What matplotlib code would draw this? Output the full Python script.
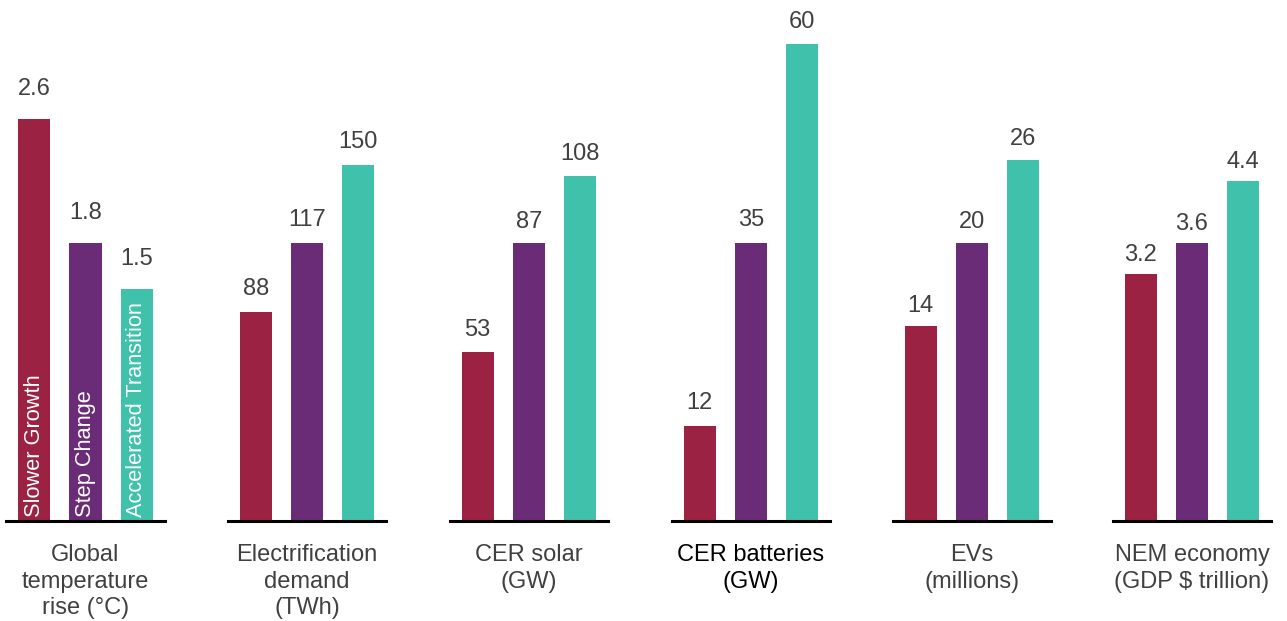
import matplotlib
matplotlib.use("Agg")
import matplotlib.pyplot as plt

plt.rcParams['font.family'] = ['Liberation Sans', 'DejaVu Sans']

scenarios = ["Slower Growth", "Step Change", "Accelerated Transition"]
colors = ["#9B2242", "#6A2C77", "#40C1AC"]

categories = [
    "Global\ntemperature\nrise (°C)",
    "Electrification\ndemand\n(TWh)",
    "CER solar\n(GW)",
    "CER batteries\n(GW)",
    "EVs\n(millions)",
    "NEM economy\n(GDP $ trillion)",
]
values = [
    [2.6, 1.8, 1.5],
    [88, 117, 150],
    [53, 87, 108],
    [12, 35, 60],
    [14, 20, 26],
    [3.2, 3.6, 4.4],
]
value_labels = [
    ["2.6", "1.8", "1.5"],
    ["88", "117", "150"],
    ["53", "87", "108"],
    ["12", "35", "60"],
    ["14", "20", "26"],
    ["3.2", "3.6", "4.4"],
]
label_colors = ["#404040", "#404040", "#404040", "#000000", "#404040", "#404040"]
# gap between bar top and value label baseline, in pixels, per panel
label_gap_px = [24, 17, 15.5, 16.5, 14.5, 13]

W, H = 1287, 621
fig = plt.figure(figsize=(W / 100, H / 100), dpi=100)

spacing_px = 51.3
x_lo, x_hi = -0.54, 2.54
ax_w_px = (x_hi - x_lo) * spacing_px
baseline_px = 521
mid_height_px = 278
centers_px = [85.5, 307, 529, 751, 972, 1192]
px_to_pt = 72 / 100

for i, (cat, vals, labs) in enumerate(zip(categories, values, value_labels)):
    left = (centers_px[i] - ax_w_px / 2) / W
    ax = fig.add_axes([left, (H - baseline_px) / H, ax_w_px / W, baseline_px / H])
    ax.set_xlim(x_lo, x_hi)
    # each panel is scaled so the Step Change bar has the same height
    ax.set_ylim(0, vals[1] * baseline_px / mid_height_px)
    x = [0, 1, 2]
    ax.bar(x, vals, width=0.63, color=colors, zorder=2)
    for xi, v, lab in zip(x, vals, labs):
        ax.annotate(lab, xy=(xi, v), xytext=(0, label_gap_px[i] * px_to_pt),
                    textcoords="offset points", ha="center", va="baseline",
                    fontsize=17, color="#404040", annotation_clip=False)
    ax.axhline(0, color="black", lw=2.2, zorder=3, clip_on=False)
    ax.annotate(cat, xy=(1, 0), xycoords="data", xytext=(0, -16.5),
                textcoords="offset points", ha="center", va="top",
                multialignment="center", linespacing=1.28, fontsize=17,
                color=label_colors[i], annotation_clip=False)
    if i == 0:
        for xi, name in zip(x, scenarios):
            ax.annotate(name, xy=(xi, 0), xytext=(0, 3), textcoords="offset points",
                        rotation=90, ha="center", va="bottom", fontsize=15.7,
                        color="white", zorder=4)
    ax.axis("off")

fig.savefig("out.png", dpi=100)
